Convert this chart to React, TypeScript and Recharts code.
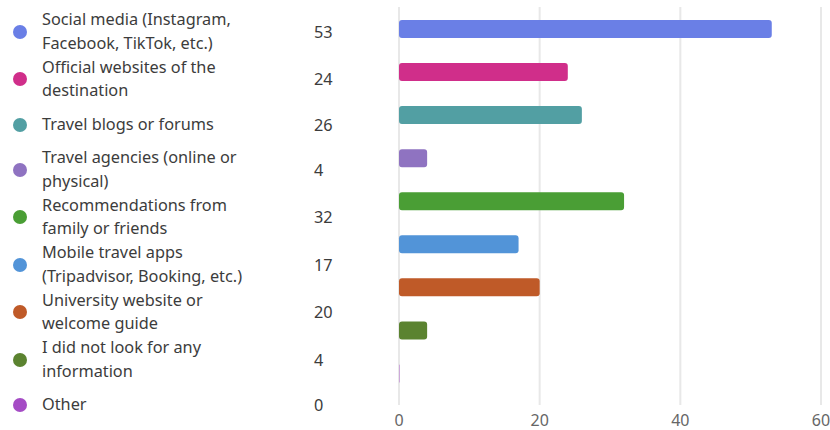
import React from 'react';
import { BarChart, Bar, XAxis, YAxis, CartesianGrid, Legend, Cell } from 'recharts';

const categories: string[] = [
  'Social media (Instagram,\nFacebook, TikTok, etc.)',
  'Official websites of the\ndestination',
  'Travel blogs or forums',
  'Travel agencies (online or\nphysical)',
  'Recommendations from\nfamily or friends',
  'Mobile travel apps\n(Tripadvisor, Booking, etc.)',
  'University website or\nwelcome guide',
  'I did not look for any\ninformation',
  'Other',
];
const counts: number[] = [53, 24, 26, 4, 32, 17, 20, 4, 0];
const colors: string[] = ['#6a7fe6', '#d02e8a', '#529fa3', '#8f73c1', '#4a9e35', '#5294d8', '#bf5a28', '#5b8330', '#a54cc5'];
const xTicks: number[] = [0, 20, 40, 60];

const data = categories.map((name, i) => ({ name, value: counts[i] }));

const FONT = '"Noto Sans", "Open Sans", sans-serif';

const LegendContent = () => (
  <div style={{ fontFamily: FONT, fontSize: 16.3, color: '#3c3c3c' }}>
    {categories.map((label, i) => {
      const multi = label.includes('\n');
      return (
        <div
          key={i}
          style={{ display: 'flex', alignItems: 'center', height: multi ? 47.5 : 43 }}
        >
          <span
            style={{
              display: 'inline-block',
              width: 14,
              height: 14,
              borderRadius: 7,
              background: colors[i],
              marginLeft: 13,
              marginRight: 15,
              flexShrink: 0,
            }}
          />
          <span style={{ width: 272, whiteSpace: 'pre-line', lineHeight: '23.5px' }}>{label}</span>
          <span>{counts[i]}</span>
        </div>
      );
    })}
  </div>
);

export default function App() {
  return (
    <div style={{ position: 'absolute', left: 0, top: 0, background: '#fff' }}>
      <BarChart
        width={830}
        height={430}
        data={data}
        layout="vertical"
        margin={{ top: 7, right: 9, bottom: 0, left: 19 }}
      >
        <CartesianGrid horizontal={false} stroke="#e8e8e8" strokeWidth={2} />
        <XAxis
          type="number"
          domain={[0, 60]}
          ticks={xTicks}
          axisLine={false}
          tickLine={false}
          height={25}
          tickMargin={4}
          tick={{ fill: '#666', fontSize: 16, fontFamily: FONT }}
        />
        <YAxis type="category" dataKey="name" hide padding={{ top: 0, bottom: 10.5 }} />
        <Legend
          layout="vertical"
          align="left"
          verticalAlign="top"
          content={LegendContent}
          wrapperStyle={{ left: 0, top: 8, width: 380 }}
        />
        <Bar dataKey="value" barSize={18} radius={3} minPointSize={1} isAnimationActive={false}>
          {data.map((d, i) => (
            <Cell key={i} fill={colors[i]} fillOpacity={d.value === 0 ? 0.4 : 1} />
          ))}
        </Bar>
      </BarChart>
    </div>
  );
}
